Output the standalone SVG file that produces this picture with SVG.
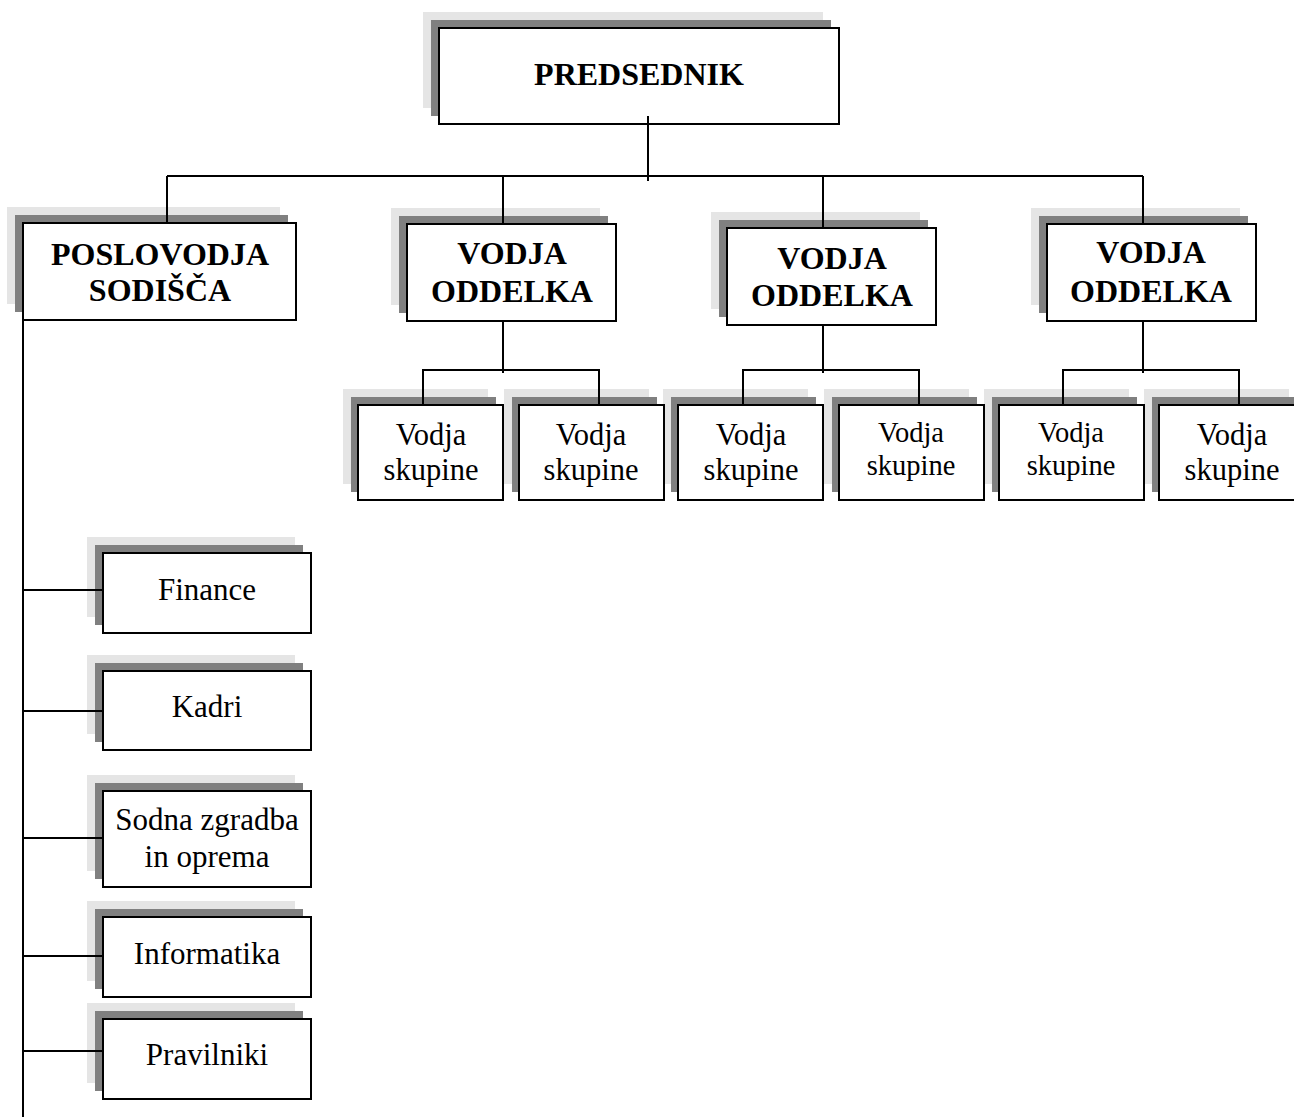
<svg xmlns="http://www.w3.org/2000/svg" width="1294" height="1117" viewBox="0 0 1294 1117">
  <style>
    .sh1 { fill: #e5e5e5; }
    .sh2 { fill: #808080; }
    .box { fill: #ffffff; stroke: #000000; stroke-width: 2; }
    .t { font-family: "Liberation Serif", "Times New Roman", serif; fill: #000000; text-anchor: middle; }
    .hd { font-size: 32px; font-weight: bold; }
    .sub { font-size: 30.5px; }
    .subs { font-size: 28.5px; }
    .dep { font-size: 31px; }
    .ln { fill: none; stroke: #000000; stroke-width: 2; }
  </style>
  <rect width="1294" height="1117" fill="#ffffff"/>

  <!-- top level -->
  <g id="predsednik">
    <rect class="sh1" x="423" y="12" width="400" height="96"/>
    <rect class="sh2" x="431" y="20" width="400" height="96"/>
    <rect class="box" x="439" y="28" width="400" height="96"/>
    <text class="t hd" x="639" y="85">PREDSEDNIK</text>
  </g>

  <!-- second level -->
  <g id="poslovodja">
    <rect class="sh1" x="7" y="207" width="273" height="97"/>
    <rect class="sh2" x="15" y="215" width="273" height="97"/>
    <rect class="box" x="23" y="223" width="273" height="97"/>
    <text class="t hd" x="160" y="265">POSLOVODJA</text>
    <text class="t hd" x="160" y="301">SODIŠČA</text>
  </g>
  <g id="vodja-oddelka-1">
    <rect class="sh1" x="391" y="208" width="209" height="97"/>
    <rect class="sh2" x="399" y="216" width="209" height="97"/>
    <rect class="box" x="407" y="224" width="209" height="97"/>
    <text class="t hd" x="512" y="264">VODJA</text>
    <text class="t hd" x="512" y="302">ODDELKA</text>
  </g>
  <g id="vodja-oddelka-2">
    <rect class="sh1" x="711" y="212" width="209" height="97"/>
    <rect class="sh2" x="719" y="220" width="209" height="97"/>
    <rect class="box" x="727" y="228" width="209" height="97"/>
    <text class="t hd" x="832" y="269">VODJA</text>
    <text class="t hd" x="832" y="306">ODDELKA</text>
  </g>
  <g id="vodja-oddelka-3">
    <rect class="sh1" x="1031" y="208" width="209" height="97"/>
    <rect class="sh2" x="1039" y="216" width="209" height="97"/>
    <rect class="box" x="1047" y="224" width="209" height="97"/>
    <text class="t hd" x="1151" y="263">VODJA</text>
    <text class="t hd" x="1151" y="302">ODDELKA</text>
  </g>

  <!-- group leaders: shadows first so they never cover a neighbouring frame -->
  <g id="skupine-shadows">
    <rect class="sh1" x="343" y="389" width="145" height="95"/>
    <rect class="sh1" x="504" y="389" width="145" height="95"/>
    <rect class="sh1" x="663" y="389" width="145" height="95"/>
    <rect class="sh1" x="824" y="389" width="145" height="95"/>
    <rect class="sh1" x="984" y="389" width="145" height="95"/>
    <rect class="sh1" x="1144" y="389" width="145" height="95"/>
    <rect class="sh2" x="351" y="397" width="145" height="95"/>
    <rect class="sh2" x="512" y="397" width="145" height="95"/>
    <rect class="sh2" x="671" y="397" width="145" height="95"/>
    <rect class="sh2" x="832" y="397" width="145" height="95"/>
    <rect class="sh2" x="992" y="397" width="145" height="95"/>
    <rect class="sh2" x="1152" y="397" width="145" height="95"/>
  </g>
  <g id="vodja-skupine-1">
    <rect class="box" x="358" y="405" width="145" height="95"/>
    <text class="t sub" x="431" y="445">Vodja</text>
    <text class="t sub" x="431" y="480">skupine</text>
  </g>
  <g id="vodja-skupine-2">
    <rect class="box" x="519" y="405" width="145" height="95"/>
    <text class="t sub" x="591" y="445">Vodja</text>
    <text class="t sub" x="591" y="480">skupine</text>
  </g>
  <g id="vodja-skupine-3">
    <rect class="box" x="678" y="405" width="145" height="95"/>
    <text class="t sub" x="751" y="445">Vodja</text>
    <text class="t sub" x="751" y="480">skupine</text>
  </g>
  <g id="vodja-skupine-4">
    <rect class="box" x="839" y="405" width="145" height="95"/>
    <text class="t subs" x="911" y="442">Vodja</text>
    <text class="t subs" x="911" y="475">skupine</text>
  </g>
  <g id="vodja-skupine-5">
    <rect class="box" x="999" y="405" width="145" height="95"/>
    <text class="t subs" x="1071" y="442">Vodja</text>
    <text class="t subs" x="1071" y="475">skupine</text>
  </g>
  <g id="vodja-skupine-6">
    <rect class="box" x="1159" y="405" width="145" height="95"/>
    <text class="t sub" x="1232" y="445">Vodja</text>
    <text class="t sub" x="1232" y="480">skupine</text>
  </g>

  <!-- court administration departments -->
  <g id="finance">
    <rect class="sh1" x="87" y="537" width="208" height="80"/>
    <rect class="sh2" x="95" y="545" width="208" height="80"/>
    <rect class="box" x="103" y="553" width="208" height="80"/>
    <text class="t dep" x="207" y="600">Finance</text>
  </g>
  <g id="kadri">
    <rect class="sh1" x="87" y="655" width="208" height="79"/>
    <rect class="sh2" x="95" y="663" width="208" height="79"/>
    <rect class="box" x="103" y="671" width="208" height="79"/>
    <text class="t dep" x="207" y="717">Kadri</text>
  </g>
  <g id="sodna-zgradba">
    <rect class="sh1" x="87" y="775" width="208" height="96"/>
    <rect class="sh2" x="95" y="783" width="208" height="96"/>
    <rect class="box" x="103" y="791" width="208" height="96"/>
    <text class="t dep" x="207" y="830">Sodna zgradba</text>
    <text class="t dep" x="207" y="867">in oprema</text>
  </g>
  <g id="informatika">
    <rect class="sh1" x="87" y="901" width="208" height="80"/>
    <rect class="sh2" x="95" y="909" width="208" height="80"/>
    <rect class="box" x="103" y="917" width="208" height="80"/>
    <text class="t dep" x="207" y="964">Informatika</text>
  </g>
  <g id="pravilniki">
    <rect class="sh1" x="87" y="1003" width="208" height="80"/>
    <rect class="sh2" x="95" y="1011" width="208" height="80"/>
    <rect class="box" x="103" y="1019" width="208" height="80"/>
    <text class="t dep" x="207" y="1065">Pravilniki</text>
  </g>

  <!-- connectors -->
  <g id="connectors" class="ln">
    <path class="ln" d="M648 116 V181 M167 176 H1143"/>
    <path class="ln" d="M167 176 V223 M503 176 V224 M823 176 V228 M1143 176 V224"/>
    <path class="ln" d="M503 321 V373 M423 405 V370 H599 V405"/>
    <path class="ln" d="M823 325 V373 M743 405 V370 H919 V405"/>
    <path class="ln" d="M1143 321 V373 M1063 405 V370 H1239 V405"/>
    <path class="ln" d="M23 320 V1117"/>
    <path class="ln" d="M23 590 H103 M23 711 H103 M23 838 H103 M23 956 H103 M23 1051 H103"/>
  </g>
</svg>
